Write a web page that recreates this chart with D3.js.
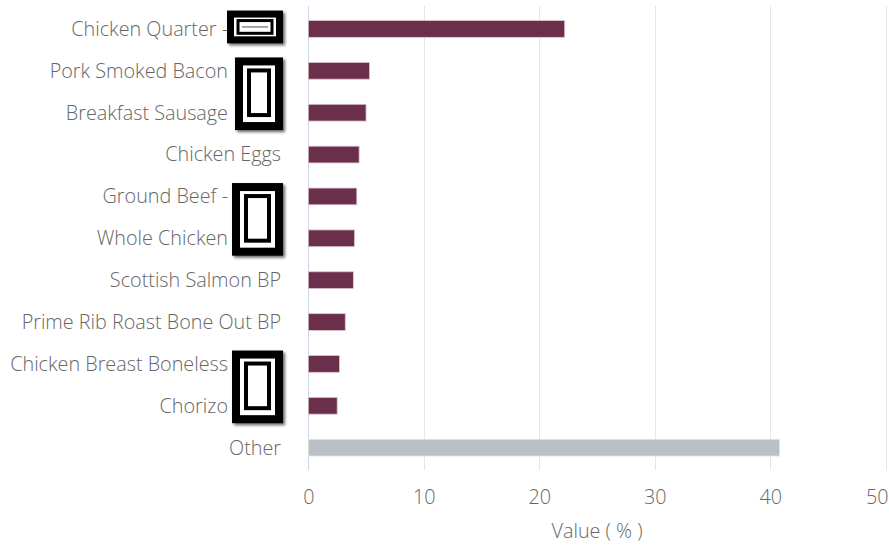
<!DOCTYPE html>
<html>
<head>
<meta charset="utf-8">
<script src="https://cdn.jsdelivr.net/npm/d3@7/dist/d3.min.js"></script>
<style>
  html, body { margin: 0; padding: 0; background: #ffffff; }
  svg { display: block; }
  text { font-family: "Open Sans", "Noto Sans", sans-serif; font-weight: 300; }
</style>
</head>
<body>
<svg id="chart" width="889" height="546"></svg>
<script>
// ---- data ----
const categories = [
  "Chicken Quarter -",
  "Pork Smoked Bacon",
  "Breakfast Sausage",
  "Chicken Eggs",
  "Ground Beef -",
  "Whole Chicken",
  "Scottish Salmon BP",
  "Prime Rib Roast Bone Out BP",
  "Chicken Breast Boneless",
  "Chorizo",
  "Other"
];
const values = [22.2, 5.3, 5.0, 4.4, 4.2, 4.0, 3.9, 3.2, 2.7, 2.5, 40.8];
// labels whose suffix is covered by a redaction box in the source
const redacted = [true, true, true, false, true, true, false, false, true, true, false];
// redaction boxes, each spanning a run of rows (first row, last row)
const redactionGroups = [[0, 0], [1, 2], [4, 5], [8, 9]];
const xTicks = [0, 10, 20, 30, 40, 50];
const xTitle = "Value ( % )";

// ---- layout ----
const svg = d3.select("#chart");
const x0 = 308.3, x1 = 885.8;
const gridTop = 6, gridBottom = 470;
const textColor = "#666666";
const fontSize = 19.8;

const x = d3.scaleLinear().domain([0, 50]).range([x0, x1]);
const y = d3.scaleBand().domain(categories).range([8, 468.6])
  .paddingInner(0.6).paddingOuter(0.3);

// gridlines
svg.append("g").selectAll("line").data(xTicks).join("line")
  .attr("x1", d => Math.round(x(d)) + 0.5)
  .attr("x2", d => Math.round(x(d)) + 0.5)
  .attr("y1", gridTop).attr("y2", gridBottom)
  .attr("stroke", d => d === 0 ? "#ccd6eb" : "#e6e6e6")
  .attr("stroke-width", 1);

// x axis tick labels via d3 axis
const xAxis = d3.axisBottom(x).tickValues(xTicks).tickSize(0).tickPadding(0)
  .tickFormat(d3.format("d"));
const gx = svg.append("g").attr("transform", `translate(0,${gridBottom})`).call(xAxis);
gx.select(".domain").remove();
gx.selectAll("text")
  .attr("y", 27).attr("dy", "0.35em")
  .attr("font-size", fontSize)
  .attr("fill", textColor)
  .attr("text-anchor", d => d === 50 ? "end" : "middle")
  .attr("x", d => d === 50 ? 888 - x(50) : 0)
  .style("font-family", "'Open Sans', sans-serif")
  .style("font-weight", 300);

// axis title
svg.append("text")
  .attr("x", (x0 + x1) / 2)
  .attr("y", 531)
  .attr("dy", "0.35em")
  .attr("text-anchor", "middle")
  .attr("font-size", fontSize)
  .attr("fill", textColor)
  .text(xTitle);

// bars
svg.append("g").selectAll("rect").data(categories).join("rect")
  .attr("x", x(0))
  .attr("y", d => y(d))
  .attr("width", (d, i) => x(values[i]) - x(0))
  .attr("height", y.bandwidth())
  .attr("fill", (d, i) => d === "Other" ? "#babfc8" : "#6b2e4b")
  .attr("stroke", (d, i) => d === "Other" ? "#e4e6ea" : "#d9c6d0")
  .attr("stroke-width", 0.8);

// category labels
svg.append("g").selectAll("text").data(categories).join("text")
  .attr("x", (d, i) => redacted[i] ? 228 : 281)
  .attr("y", d => y(d) + y.bandwidth() / 2)
  .attr("dy", "0.35em")
  .attr("text-anchor", "end")
  .attr("font-size", fontSize)
  .attr("fill", textColor)
  .text(d => d);

// redaction boxes
const boxes = svg.append("g");
const defs = svg.append("defs");
defs.append("filter").attr("id", "blur").append("feGaussianBlur").attr("stdDeviation", 1.5);
redactionGroups.forEach(([a, b]) => {
  const single = a === b;
  const top = y(categories[a]) - (single ? 10 : 5);
  const bot = y(categories[b]) + y.bandwidth() + (single ? 6 : 9);
  const left = a === 0 ? 227 : (a === 1 ? 235 : 232);
  const right = 283;
  const t = single ? 7 : 8;
  boxes.append("rect").attr("x", left + 2).attr("y", top + 2)
    .attr("width", right - left).attr("height", bot - top)
    .attr("fill", "#000").attr("opacity", 0.6).attr("filter", "url(#blur)");
  boxes.append("rect").attr("x", left).attr("y", top)
    .attr("width", right - left).attr("height", bot - top).attr("fill", "#000");
  boxes.append("rect").attr("x", left + t).attr("y", top + t)
    .attr("width", right - left - 2 * t).attr("height", bot - top - 2 * t)
    .attr("fill", "#fff");
  if (single) {
    boxes.append("rect").attr("x", left + t + 4).attr("y", top + t + 3)
      .attr("width", right - left - 2 * t - 8).attr("height", bot - top - 2 * t - 6)
      .attr("fill", "none").attr("stroke", "#000").attr("stroke-width", 3);
    boxes.append("line").attr("x1", left + t + 8).attr("x2", right - t - 8)
      .attr("y1", (top + bot) / 2).attr("y2", (top + bot) / 2)
      .attr("stroke", "#888").attr("stroke-width", 1.5);
  } else {
    boxes.append("rect").attr("x", left + t + 6).attr("y", top + t + 5)
      .attr("width", right - left - 2 * t - 12).attr("height", bot - top - 2 * t - 12)
      .attr("fill", "none").attr("stroke", "#000").attr("stroke-width", 4);
  }
});
</script>
</body>
</html>
